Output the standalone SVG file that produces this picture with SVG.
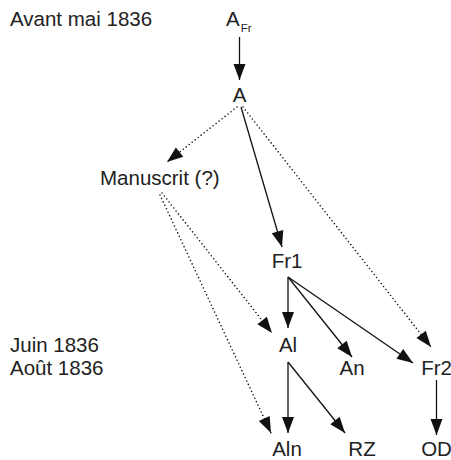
<svg xmlns="http://www.w3.org/2000/svg" width="451" height="460" viewBox="0 0 451 460">
<defs>
<marker id="ah" markerUnits="userSpaceOnUse" markerWidth="17" markerHeight="13" refX="16" refY="6" orient="auto" overflow="visible">
<path d="M0,0 L16,6 L0,12 z" fill="#111"/>
</marker>
<style>
text{font-family:"Liberation Sans",Arial,Helvetica,sans-serif;font-size:20.5px;fill:#222}
.sub{font-size:11.5px;fill:#222}
.s{stroke:#111;stroke-width:1.3;fill:none;marker-end:url(#ah)}
.d{stroke:#111;stroke-width:1.6;fill:none;stroke-dasharray:0 3.8;stroke-linecap:round;marker-end:url(#ah)}
</style>
</defs>
<rect width="451" height="460" fill="#fff"/>
<g id="labels">
<text x="10" y="26">Avant mai 1836</text>
<text x="10" y="352">Juin 1836</text>
<text x="10" y="375">Août 1836</text>
</g>
<g id="connectors">
<line class="s" x1="239.5" y1="37" x2="239.5" y2="80"/>
<line class="d" x1="237" y1="107" x2="167" y2="162"/>
<line class="s" x1="241" y1="107" x2="282" y2="247"/>
<line class="d" x1="243" y1="107" x2="431" y2="347"/>
<line class="d" x1="162" y1="193" x2="272" y2="333"/>
<line class="d" x1="160" y1="195" x2="271" y2="433"/>
<line class="s" x1="288" y1="277" x2="288" y2="328"/>
<line class="s" x1="288" y1="277" x2="352" y2="357"/>
<line class="s" x1="288" y1="277" x2="413" y2="363"/>
<line class="s" x1="288" y1="362" x2="288" y2="433"/>
<line class="s" x1="288" y1="362" x2="345" y2="433"/>
<line class="s" x1="436.5" y1="380" x2="436.5" y2="435"/>
</g>
<g id="node-AFr"><text x="226" y="26">A<tspan class="sub" dx="1" dy="6">Fr</tspan></text></g>
<g id="node-A"><text x="239.5" y="102" text-anchor="middle">A</text></g>
<g id="node-Manuscrit"><text x="100" y="185">Manuscrit (?)</text></g>
<g id="node-Fr1"><text x="287" y="268" text-anchor="middle">Fr1</text></g>
<g id="node-Al"><text x="288" y="352" text-anchor="middle">Al</text></g>
<g id="node-An"><text x="352" y="375" text-anchor="middle">An</text></g>
<g id="node-Fr2"><text x="436.5" y="375" text-anchor="middle">Fr2</text></g>
<g id="node-Aln"><text x="287" y="456" text-anchor="middle">Aln</text></g>
<g id="node-RZ"><text x="362" y="456" text-anchor="middle">RZ</text></g>
<g id="node-OD"><text x="436.5" y="456" text-anchor="middle">OD</text></g>
</svg>
